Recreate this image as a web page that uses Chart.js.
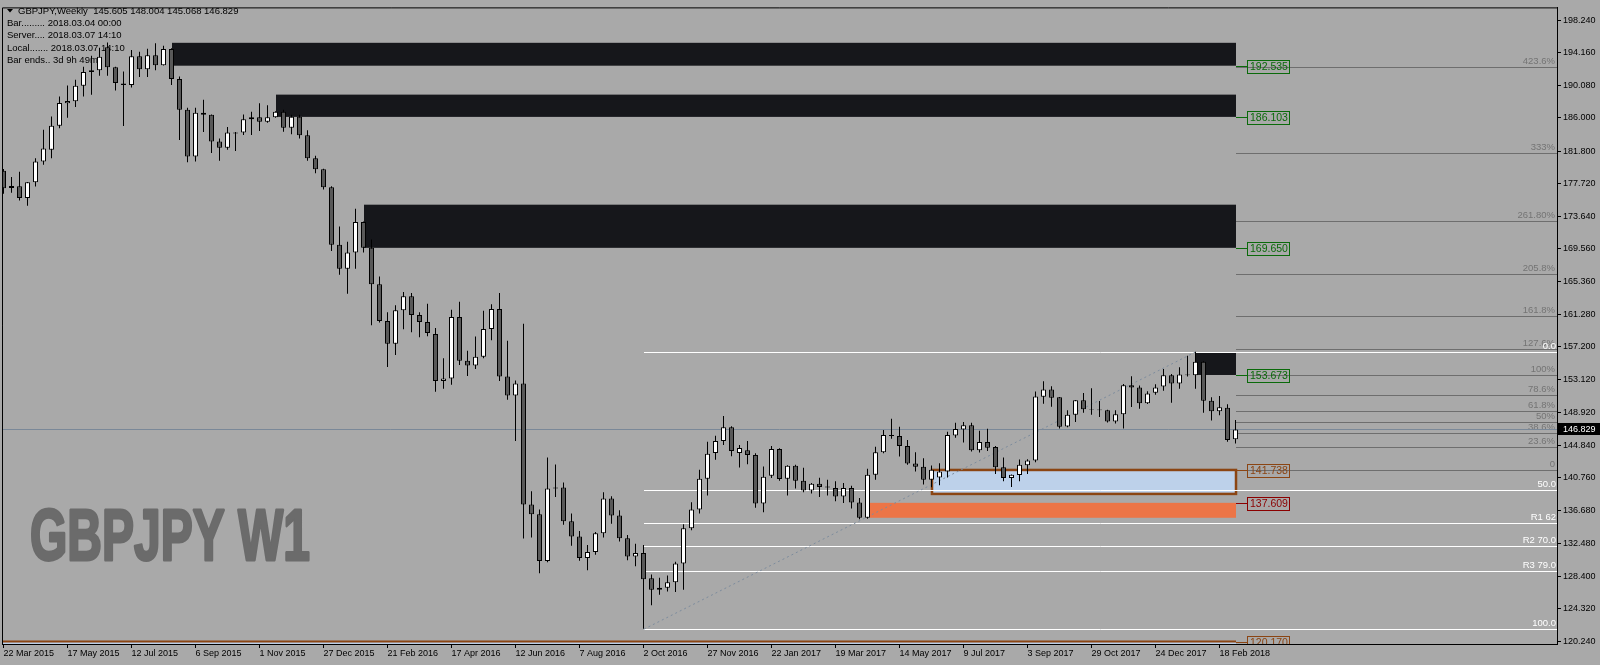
<!DOCTYPE html>
<html>
<head>
<meta charset="utf-8">
<script src="https://cdn.jsdelivr.net/npm/chart.js@4.4.0/dist/chart.umd.min.js"></script>
<style>
  html, body { margin: 0; padding: 0; background: #a9a9a9; }
  #wrap { width: 1600px; height: 665px; }
</style>
</head>
<body>
<div id="wrap"><canvas id="chart" width="1600" height="665"></canvas></div>
<script>
// GBPJPY weekly candles, 22 Mar 2015 .. 4 Mar 2018
const opens = [179.34,177.18,177.40,175.90,177.90,180.51,181.96,185.00,187.81,188.06,190.02,191.73,191.97,194.84,192.35,190.10,190.10,193.72,192.10,193.84,
  192.60,194.63,190.85,186.99,181.13,186.62,186.37,183.00,182.21,184.00,184.13,185.82,186.07,185.50,186.07,186.74,184.75,186.12,183.79,180.89,
  179.52,177.27,170.05,167.01,169.05,172.91,169.67,165.06,160.45,157.59,161.82,163.57,161.20,160.33,158.83,152.93,153.23,160.95,155.47,154.85,
  155.97,159.46,161.95,153.48,151.11,152.60,137.40,136.16,130.30,139.52,139.52,135.29,133.37,130.68,131.42,133.79,138.15,136.03,133.17,130.88,
  131.30,128.14,126.69,126.94,127.64,130.00,134.41,136.78,140.64,143.88,145.38,147.12,143.88,144.21,143.63,137.53,141.02,144.38,140.64,142.26,
  140.39,139.15,140.02,139.65,139.47,138.40,139.47,137.65,135.73,141.14,143.96,146.13,146.00,144.75,142.55,142.14,140.52,140.80,141.55,146.08,
  146.82,147.37,144.21,145.25,144.63,142.09,140.72,141.09,142.34,142.92,150.93,151.86,150.86,147.20,148.69,150.49,149.40,149.32,149.24,147.82,
  148.74,152.39,152.11,150.11,151.43,152.23,153.64,152.60,153.73,153.64,155.35,150.44,149.12,149.56,145.605];
const highs = [179.55,178.56,179.22,177.92,180.92,184.50,186.16,188.65,190.06,190.77,192.39,193.79,194.79,195.46,192.40,191.80,194.50,194.29,194.67,195.34,
  195.04,194.72,191.18,187.24,187.24,188.27,186.40,183.38,184.82,184.20,186.41,186.74,187.81,187.56,186.80,186.99,186.37,186.37,184.41,181.21,
  179.60,177.40,172.33,170.42,174.57,172.95,170.71,166.06,161.57,162.45,164.10,163.98,161.57,162.61,159.58,155.76,161.86,162.86,156.72,158.50,
  161.74,162.57,163.98,157.96,152.98,160.12,139.06,136.78,143.30,142.43,140.15,136.28,134.08,132.30,133.95,138.94,138.44,136.69,133.58,132.46,
  132.30,128.60,128.18,128.47,130.21,134.91,137.69,141.76,145.29,146.04,148.53,147.24,144.88,145.38,143.83,142.18,144.75,144.46,142.34,142.38,
  142.01,140.10,140.77,140.52,140.31,140.10,139.77,138.23,141.89,144.67,146.75,148.16,147.16,145.50,143.96,143.21,142.30,142.59,146.54,147.66,
  147.78,147.66,146.66,146.91,144.75,143.30,141.18,143.05,143.09,151.61,152.89,152.27,150.90,149.24,150.53,151.40,152.02,150.40,149.30,149.24,
  152.55,153.51,152.36,151.64,152.52,154.42,153.80,154.63,156.09,156.59,155.40,150.86,151.02,149.98,148.004];
const lows = [176.44,176.56,175.60,174.94,177.35,180.09,180.92,184.66,185.99,187.36,188.65,188.90,191.26,191.26,189.43,184.95,189.81,191.10,191.10,191.97,
  192.55,190.10,183.20,180.39,180.51,184.20,181.58,180.59,181.96,181.83,183.83,183.83,184.32,185.37,186.00,184.25,183.91,183.38,180.59,179.02,
  176.97,169.25,166.26,163.89,167.01,169.05,159.91,160.28,154.67,156.17,159.41,159.03,158.41,158.53,151.56,151.93,152.43,154.92,153.55,154.42,
  155.79,158.04,152.93,150.56,145.38,133.12,133.24,128.76,130.13,138.35,134.86,132.21,130.34,129.13,131.09,133.24,134.99,132.74,130.38,129.63,
  121.80,124.73,126.07,126.48,126.39,126.69,134.16,136.28,138.53,143.01,144.88,143.46,142.05,142.46,136.98,136.41,140.72,140.39,138.53,139.40,
  138.94,138.77,138.35,138.53,137.81,137.60,136.91,135.53,135.61,140.52,143.83,145.66,143.42,142.39,141.55,139.90,139.56,139.81,140.80,145.79,
  145.20,144.05,143.92,144.13,141.22,140.31,139.60,140.31,141.22,142.71,150.06,149.69,146.95,147.10,147.78,148.94,148.69,148.40,147.70,147.57,
  146.95,149.65,149.44,150.02,151.18,151.68,150.19,151.93,153.48,151.93,148.94,147.94,148.62,145.29,145.068];
const closes = [177.15,177.43,175.90,177.90,180.51,182.13,185.00,187.86,188.11,190.02,191.73,191.97,193.67,192.35,190.35,190.30,193.72,192.10,193.84,192.60,
  194.63,190.85,186.99,181.13,186.62,186.37,183.00,182.21,184.13,184.13,185.82,186.07,185.50,186.07,186.74,184.75,186.12,183.79,180.89,179.52,
  177.27,170.05,167.01,169.05,172.91,169.67,165.06,160.45,157.59,161.82,163.57,161.20,160.33,158.96,152.93,153.23,160.95,155.47,154.85,155.97,
  159.46,161.95,153.48,151.11,152.60,137.40,136.16,130.30,139.40,139.40,135.29,133.37,130.68,131.42,133.79,138.15,136.03,133.17,130.88,131.30,
  128.01,126.69,126.94,127.64,130.00,134.41,136.78,140.64,143.76,145.38,147.12,144.13,144.51,143.63,137.53,140.89,144.38,140.59,142.26,140.39,
  139.15,140.02,139.60,139.52,138.40,139.47,137.65,135.73,141.14,143.96,146.13,146.00,144.75,142.55,142.14,140.52,141.76,141.55,146.13,146.87,
  147.37,144.21,145.25,144.54,142.09,140.72,141.14,142.39,142.92,150.98,151.86,150.81,147.16,148.69,150.49,149.36,149.32,149.24,147.82,148.74,
  152.39,152.11,150.11,151.36,152.11,153.64,152.60,153.73,153.64,155.35,150.44,149.12,149.61,145.50,146.829];

const xTickLabels = ['22 Mar 2015','17 May 2015','12 Jul 2015','6 Sep 2015','1 Nov 2015','27 Dec 2015','21 Feb 2016','17 Apr 2016','12 Jun 2016','7 Aug 2016',
  '2 Oct 2016','27 Nov 2016','22 Jan 2017','19 Mar 2017','14 May 2017','9 Jul 2017','3 Sep 2017','29 Oct 2017','24 Dec 2017','18 Feb 2018'];
const yTicks = [198.24,194.16,190.08,186.00,181.80,177.72,173.64,169.56,165.36,161.28,157.20,153.12,148.92,144.84,140.76,136.68,132.48,128.40,124.32,120.24];

// supply zones (black rectangles), start bar + price band
const zoneStart = [21, 34, 45, 149];
const zoneTop = [195.41, 188.90, 175.07, 156.50];
const zoneBottom = [192.535, 186.103, 169.650, 153.673];

// demand zones
const blueZone = { start: 116, top: 141.738, bottom: 138.73 };
const orangeZone = { start: 108, top: 137.609, bottom: 135.73 };
const floorLevel = 120.170;

// fibo expansion (grey, right side)
const fibGreyLevels = [192.35, 181.51, 173.04, 166.31, 161.08, 156.96, 153.73, 151.11, 149.15, 147.75, 146.41, 144.67, 141.76];
const fibGreyLabels = ['423.6%','333%','261.80%','205.8%','161.8%','127.6%','100%','78.6%','61.8%','50%','38.6%','23.6%','0'];

// fibo retracement (white) drawn from the Oct 2016 low
const fibWhiteStart = 80;
const fibWhiteLevels = [156.59, 139.19, 135.07, 132.21, 129.09, 121.74];
const fibWhiteLabels = ['0.0','50.0','R1 62','R2 70.0','R3 79.0','100.0'];
const trendFrom = [80, 121.74];
const trendTo = [149, 156.59];

const priceTags = [192.535, 186.103, 169.650, 153.673, 141.738, 137.609, 120.170];
const lastPrice = 146.829;

const lastBar = opens.length - 1;
const FONT = '"Liberation Sans", Arial, sans-serif';
Chart.defaults.font.family = FONT;

const drawings = {
  id: 'drawings',
  beforeDraw(chart) {
    const { ctx, width, height } = chart;
    ctx.save();
    ctx.fillStyle = '#a9a9a9';
    ctx.fillRect(0, 0, width, height);
    ctx.restore();
  },
  beforeDatasetsDraw(chart) {
    const { ctx, chartArea: a, scales: { x, y } } = chart;
    const px = v => Math.round(x.getPixelForValue(v));
    const py = v => y.getPixelForValue(v);
    const xEnd = px(lastBar);

    ctx.save();
    ctx.beginPath();
    ctx.rect(a.left, a.top, a.right - a.left, a.bottom - a.top);
    ctx.clip();

    // watermark
    ctx.save();
    ctx.font = 'bold 72px ' + FONT;
    const w = ctx.measureText('GBPJPY W1').width;
    ctx.translate(30, 560);
    ctx.scale(280 / w, 1);
    ctx.fillStyle = '#6b6b6b';
    ctx.strokeStyle = '#6b6b6b';
    ctx.lineWidth = 3;
    ctx.lineJoin = 'round';
    ctx.strokeText('GBPJPY W1', 0, 0);
    ctx.fillText('GBPJPY W1', 0, 0);
    ctx.restore();

    // info block
    ctx.fillStyle = '#000';
    ctx.font = '9.5px ' + FONT;
    ctx.textBaseline = 'middle';
    ctx.textAlign = 'left';
    ctx.beginPath();
    ctx.moveTo(7, 9); ctx.lineTo(13, 9); ctx.lineTo(10, 12.5); ctx.closePath(); ctx.fill();
    ctx.fillText('GBPJPY,Weekly  145.605 148.004 145.068 146.829', 18, 11);
    ['Bar......... 2018.03.04 00:00', 'Server.... 2018.03.07 14:10', 'Local....... 2018.03.07 14:10', 'Bar ends.. 3d 9h 49m']
      .forEach((t, k) => ctx.fillText(t, 7, 23.5 + k * 12.2));

    // supply zones
    ctx.fillStyle = '#16171b';
    zoneStart.forEach((s, k) => {
      const x0 = px(s), y0 = py(zoneTop[k]);
      ctx.fillRect(x0, y0, xEnd - x0, py(zoneBottom[k]) - y0);
    });

    // orange zone
    ctx.fillStyle = '#ec7547';
    {
      const x0 = px(orangeZone.start) + 2, y0 = py(orangeZone.top);
      ctx.fillRect(x0, y0, xEnd - x0, py(orangeZone.bottom) - y0);
    }

    // blue zone with brown frame
    {
      const x0 = px(blueZone.start), y0 = py(blueZone.top), y1 = py(blueZone.bottom);
      ctx.fillStyle = '#bdd1ea';
      ctx.fillRect(x0, y0, xEnd - x0, y1 - y0);
      ctx.strokeStyle = '#8b4513';
      ctx.lineWidth = 2.5;
      ctx.strokeRect(x0, y0, xEnd - x0, y1 - y0);
    }

    // floor strip
    {
      const y0 = py(floorLevel);
      ctx.fillStyle = '#bdd1ea';
      ctx.fillRect(a.left, y0, xEnd - a.left, a.bottom - y0);
      ctx.strokeStyle = '#8b4513';
      ctx.lineWidth = 2;
      ctx.beginPath(); ctx.moveTo(a.left, y0); ctx.lineTo(xEnd, y0); ctx.stroke();
    }

    // grey fibo levels
    ctx.lineWidth = 1;
    ctx.font = '9.5px ' + FONT;
    ctx.textAlign = 'right';
    ctx.textBaseline = 'bottom';
    fibGreyLevels.forEach((v, k) => {
      const yy = Math.round(py(v)) + 0.5;
      ctx.strokeStyle = '#6e6e6e';
      ctx.beginPath(); ctx.moveTo(xEnd, yy); ctx.lineTo(a.right, yy); ctx.stroke();
      ctx.fillStyle = '#747474';
      ctx.fillText(fibGreyLabels[k], a.right - 2, yy - 1);
    });

    // white fibo levels
    fibWhiteLevels.forEach((v, k) => {
      const yy = Math.round(py(v)) + 0.5;
      ctx.strokeStyle = '#ffffff';
      ctx.beginPath(); ctx.moveTo(px(fibWhiteStart), yy); ctx.lineTo(a.right, yy); ctx.stroke();
      ctx.fillStyle = '#ffffff';
      ctx.fillText(fibWhiteLabels[k], a.right - 1, yy - 1);
    });

    // dotted trendline of the fibo
    ctx.strokeStyle = '#7d8c9d';
    ctx.setLineDash([2, 3]);
    ctx.beginPath();
    ctx.moveTo(px(trendFrom[0]), py(trendFrom[1]));
    ctx.lineTo(px(trendTo[0]), py(trendTo[1]));
    ctx.stroke();
    ctx.setLineDash([]);

    // bid line
    const by = Math.round(py(lastPrice)) + 0.5;
    ctx.strokeStyle = '#7a8898';
    ctx.beginPath(); ctx.moveTo(a.left, by); ctx.lineTo(a.right, by); ctx.stroke();

    ctx.restore();
  },
  afterDraw(chart) {
    const { ctx, chartArea: a, scales: { x, y } } = chart;
    const xEnd = Math.round(x.getPixelForValue(lastBar));

    ctx.save();
    // frame
    ctx.strokeStyle = '#000';
    ctx.lineWidth = 1;
    ctx.beginPath();
    ctx.moveTo(a.left + 0.5, a.bottom); ctx.lineTo(a.left + 0.5, a.top + 0.5); ctx.lineTo(a.right, a.top + 0.5);
    ctx.stroke();

    // price tags
    ctx.beginPath();
    ctx.rect(a.left, a.top, a.right - a.left, a.bottom - a.top);
    ctx.clip();
    const tagColor = ['#0a6a0a', '#0a6a0a', '#0a6a0a', '#0a6a0a', '#8b4513', '#8b0000', '#8b4513'];
    ctx.font = '10.5px ' + FONT;
    ctx.textAlign = 'left';
    ctx.textBaseline = 'middle';
    priceTags.forEach((v, k) => {
      const yy = Math.round(y.getPixelForValue(v)) + 0.5;
      ctx.strokeStyle = tagColor[k];
      ctx.fillStyle = tagColor[k];
      ctx.beginPath(); ctx.moveTo(xEnd, yy); ctx.lineTo(xEnd + 11, yy); ctx.stroke();
      ctx.strokeRect(xEnd + 11.5, yy - 6, 42, 13);
      ctx.fillText(v.toFixed(3), xEnd + 14, yy + 0.5);
    });
    ctx.restore();

    // last price marker on the axis
    ctx.save();
    const ly = Math.round(y.getPixelForValue(lastPrice));
    ctx.fillStyle = '#000';
    ctx.fillRect(a.right + 1, ly - 6, 43, 12);
    ctx.fillStyle = '#fff';
    ctx.font = '9px ' + FONT;
    ctx.textBaseline = 'middle';
    ctx.fillText(lastPrice.toFixed(3), a.right + 6, ly + 0.5);
    ctx.restore();
  }
};

const bodyData = opens.map((o, i) => ({ x: i, y: [Math.min(o, closes[i]), Math.max(o, closes[i])] }));
const wickData = lows.map((l, i) => ({ x: i, y: [l, highs[i]] }));

new Chart(document.getElementById('chart'), {
  type: 'bar',
  data: {
    datasets: [
      {
        label: 'body',
        order: 0,
        data: bodyData,
        backgroundColor: opens.map((o, i) => closes[i] >= o ? '#ffffff' : '#595959'),
        borderColor: '#000',
        borderWidth: 1,
        borderSkipped: false,
        barThickness: 5,
        grouped: false,
        inflateAmount: 0
      },
      {
        label: 'wick',
        order: 1,
        data: wickData,
        backgroundColor: '#000',
        borderWidth: 0,
        barThickness: 1,
        grouped: false,
        inflateAmount: 0
      }
    ]
  },
  options: {
    responsive: false,
    animation: false,
    devicePixelRatio: 1,
    layout: { padding: { left: 2, top: 2, right: 0, bottom: 0 } },
    plugins: { legend: { display: false }, tooltip: { enabled: false } },
    scales: {
      x: {
        type: 'linear',
        min: -0.1875,
        max: 194.1875,
        offset: false,
        afterBuildTicks: s => { s.ticks = xTickLabels.map((_, k) => ({ value: k * 8 })); },
        afterFit: s => { s.height = 21; },
        ticks: {
          callback: (v, k) => xTickLabels[k],
          align: 'start',
          autoSkip: false,
          maxRotation: 0,
          minRotation: 0,
          color: '#000',
          font: { size: 9 },
          padding: 0
        },
        grid: { drawOnChartArea: false, drawTicks: true, tickLength: 4, color: '#000', offset: false },
        border: { display: true, color: '#000' }
      },
      y: {
        type: 'linear',
        position: 'right',
        min: 119.87,
        max: 199.86,
        afterBuildTicks: s => { s.ticks = yTicks.map(v => ({ value: v })); },
        afterFit: s => { s.width = 43; },
        ticks: {
          callback: v => v.toFixed(3),
          autoSkip: false,
          color: '#000',
          font: { size: 9 },
          padding: 2
        },
        grid: { drawOnChartArea: false, drawTicks: true, tickLength: 4, color: '#000' },
        border: { display: true, color: '#000' }
      }
    }
  },
  plugins: [drawings]
});
</script>
</body>
</html>
